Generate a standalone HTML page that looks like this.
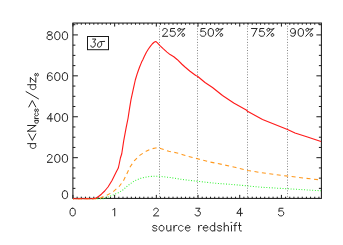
<!DOCTYPE html>
<html><head><meta charset="utf-8"><title>chart</title>
<style>html,body{margin:0;padding:0;background:#fff;overflow:hidden}</style></head>
<body>
<svg width="343" height="245" viewBox="0 0 343 245" style="display:block">
<rect width="343" height="245" fill="#fff"/>
<line x1="159.5" y1="23.05" x2="159.5" y2="198.4" stroke="#7c7c7c" stroke-width="1" stroke-dasharray="0.9 1.8"/>
<line x1="197.5" y1="23.05" x2="197.5" y2="198.4" stroke="#7c7c7c" stroke-width="1" stroke-dasharray="0.9 1.8"/>
<line x1="247.5" y1="23.05" x2="247.5" y2="198.4" stroke="#7c7c7c" stroke-width="1" stroke-dasharray="0.9 1.8"/>
<line x1="287.5" y1="23.05" x2="287.5" y2="198.4" stroke="#7c7c7c" stroke-width="1" stroke-dasharray="0.9 1.8"/>
<rect x="72.9" y="23.05" width="248.49999999999997" height="175.35" fill="none" stroke="#1a1a1a" stroke-width="1.05"/>
<path d="M72.96 198.4 v-3.5 M72.96 23.05 v3.5 M77.13 198.4 v-1.7 M77.13 23.05 v1.7 M81.30 198.4 v-1.7 M81.30 23.05 v1.7 M85.47 198.4 v-1.7 M85.47 23.05 v1.7 M89.64 198.4 v-1.7 M89.64 23.05 v1.7 M93.80 198.4 v-1.7 M93.80 23.05 v1.7 M97.97 198.4 v-1.7 M97.97 23.05 v1.7 M102.14 198.4 v-1.7 M102.14 23.05 v1.7 M106.31 198.4 v-1.7 M106.31 23.05 v1.7 M110.48 198.4 v-1.7 M110.48 23.05 v1.7 M114.65 198.4 v-3.5 M114.65 23.05 v3.5 M118.82 198.4 v-1.7 M118.82 23.05 v1.7 M122.99 198.4 v-1.7 M122.99 23.05 v1.7 M127.16 198.4 v-1.7 M127.16 23.05 v1.7 M131.33 198.4 v-1.7 M131.33 23.05 v1.7 M135.50 198.4 v-1.7 M135.50 23.05 v1.7 M139.66 198.4 v-1.7 M139.66 23.05 v1.7 M143.83 198.4 v-1.7 M143.83 23.05 v1.7 M148.00 198.4 v-1.7 M148.00 23.05 v1.7 M152.17 198.4 v-1.7 M152.17 23.05 v1.7 M156.34 198.4 v-3.5 M156.34 23.05 v3.5 M160.51 198.4 v-1.7 M160.51 23.05 v1.7 M164.68 198.4 v-1.7 M164.68 23.05 v1.7 M168.85 198.4 v-1.7 M168.85 23.05 v1.7 M173.02 198.4 v-1.7 M173.02 23.05 v1.7 M177.19 198.4 v-1.7 M177.19 23.05 v1.7 M181.35 198.4 v-1.7 M181.35 23.05 v1.7 M185.52 198.4 v-1.7 M185.52 23.05 v1.7 M189.69 198.4 v-1.7 M189.69 23.05 v1.7 M193.86 198.4 v-1.7 M193.86 23.05 v1.7 M198.03 198.4 v-3.5 M198.03 23.05 v3.5 M202.20 198.4 v-1.7 M202.20 23.05 v1.7 M206.37 198.4 v-1.7 M206.37 23.05 v1.7 M210.54 198.4 v-1.7 M210.54 23.05 v1.7 M214.71 198.4 v-1.7 M214.71 23.05 v1.7 M218.88 198.4 v-1.7 M218.88 23.05 v1.7 M223.04 198.4 v-1.7 M223.04 23.05 v1.7 M227.21 198.4 v-1.7 M227.21 23.05 v1.7 M231.38 198.4 v-1.7 M231.38 23.05 v1.7 M235.55 198.4 v-1.7 M235.55 23.05 v1.7 M239.72 198.4 v-3.5 M239.72 23.05 v3.5 M243.89 198.4 v-1.7 M243.89 23.05 v1.7 M248.06 198.4 v-1.7 M248.06 23.05 v1.7 M252.23 198.4 v-1.7 M252.23 23.05 v1.7 M256.40 198.4 v-1.7 M256.40 23.05 v1.7 M260.56 198.4 v-1.7 M260.56 23.05 v1.7 M264.73 198.4 v-1.7 M264.73 23.05 v1.7 M268.90 198.4 v-1.7 M268.90 23.05 v1.7 M273.07 198.4 v-1.7 M273.07 23.05 v1.7 M277.24 198.4 v-1.7 M277.24 23.05 v1.7 M281.41 198.4 v-3.5 M281.41 23.05 v3.5 M285.58 198.4 v-1.7 M285.58 23.05 v1.7 M289.75 198.4 v-1.7 M289.75 23.05 v1.7 M293.92 198.4 v-1.7 M293.92 23.05 v1.7 M298.09 198.4 v-1.7 M298.09 23.05 v1.7 M302.25 198.4 v-1.7 M302.25 23.05 v1.7 M306.42 198.4 v-1.7 M306.42 23.05 v1.7 M310.59 198.4 v-1.7 M310.59 23.05 v1.7 M314.76 198.4 v-1.7 M314.76 23.05 v1.7 M318.93 198.4 v-1.7 M318.93 23.05 v1.7 M72.9 188.37 h2.5 M321.4 188.37 h-2.5 M72.9 178.14 h2.5 M321.4 178.14 h-2.5 M72.9 167.91 h2.5 M321.4 167.91 h-2.5 M72.9 157.68 h5 M321.4 157.68 h-5 M72.9 147.45 h2.5 M321.4 147.45 h-2.5 M72.9 137.22 h2.5 M321.4 137.22 h-2.5 M72.9 126.99 h2.5 M321.4 126.99 h-2.5 M72.9 116.76 h5 M321.4 116.76 h-5 M72.9 106.53 h2.5 M321.4 106.53 h-2.5 M72.9 96.30 h2.5 M321.4 96.30 h-2.5 M72.9 86.07 h2.5 M321.4 86.07 h-2.5 M72.9 75.84 h5 M321.4 75.84 h-5 M72.9 65.61 h2.5 M321.4 65.61 h-2.5 M72.9 55.38 h2.5 M321.4 55.38 h-2.5 M72.9 45.15 h2.5 M321.4 45.15 h-2.5 M72.9 34.92 h5 M321.4 34.92 h-5 M72.9 24.69 h2.5 M321.4 24.69 h-2.5" stroke="#1a1a1a" stroke-width="1" fill="none"/>
<polyline points="73.00,198.75 104.00,198.60 109.10,196.50 113.50,194.80 118.30,192.70 122.60,190.20 127.50,185.90 132.40,182.20 135.00,180.60 140.70,178.30 147.60,176.70 154.40,176.20 158.75,176.20 170.00,177.50 182.50,179.50 197.50,181.25 212.50,183.00 236.00,184.80 262.20,187.30 288.50,188.80 321.00,190.80" fill="none" stroke="#2cf02c" stroke-width="1.05" stroke-dasharray="0.95 1.75"/>
<polyline points="73.00,198.75 99.00,198.60 105.50,196.00 112.80,192.00 119.20,186.50 123.60,180.40 126.90,173.70 130.20,166.70 134.50,160.50 139.75,155.30 146.70,150.90 151.00,149.00 155.50,147.95 158.40,147.70 161.40,148.80 165.00,150.00 168.80,151.30 176.10,152.70 182.00,154.40 187.50,156.25 197.50,158.75 210.00,162.00 222.50,164.50 236.00,167.50 247.80,170.50 267.50,173.60 288.50,176.20 304.20,178.10 321.00,180.00" fill="none" stroke="#ff981c" stroke-width="1.08" stroke-dasharray="4 3.5" stroke-dashoffset="3"/>
<polyline points="73.00,198.75 93.50,198.75 96.00,198.00 98.20,196.70 101.40,194.20 104.70,191.00 108.00,187.00 112.00,180.50 116.20,172.10 118.30,168.00 119.25,163.75 120.40,158.00 121.75,153.75 123.70,140.90 126.10,127.80 128.10,118.00 129.40,109.40 131.00,99.60 133.50,88.20 135.30,80.00 135.90,78.00 137.55,72.70 139.60,67.00 141.60,62.10 142.70,60.00 144.40,56.30 146.40,52.20 148.40,49.00 150.50,46.10 152.20,44.00 153.80,42.50 155.00,41.70 155.80,41.50 157.20,42.60 159.70,45.30 163.40,48.90 167.00,52.10 170.10,54.60 173.80,56.70 177.40,59.70 181.70,64.00 185.00,67.00 190.00,71.25 195.75,75.50 197.50,76.25 205.00,82.50 212.50,87.50 222.50,95.50 233.75,103.00 246.25,110.00 247.50,111.25 262.50,119.50 277.50,125.50 287.50,129.50 295.00,133.00 307.50,137.00 321.00,141.50" fill="none" stroke="#ff1a1a" stroke-width="1.12" stroke-linejoin="round"/>
<path d="M48.93 31.74 L47.79 32.12 L47.41 32.87 L47.41 33.62 L47.79 34.37 L48.55 34.74 L50.07 35.12 L51.22 35.49 L51.98 36.24 L52.36 36.99 L52.36 38.12 L51.98 38.87 L51.60 39.24 L50.45 39.62 L48.93 39.62 L47.79 39.24 L47.41 38.87 L47.03 38.12 L47.03 36.99 L47.41 36.24 L48.17 35.49 L49.31 35.12 L50.84 34.74 L51.60 34.37 L51.98 33.62 L51.98 32.87 L51.60 32.12 L50.45 31.74 L48.93 31.74 M56.93 31.74 L55.79 32.12 L55.03 33.24 L54.65 35.12 L54.65 36.24 L55.03 38.12 L55.79 39.24 L56.93 39.62 L57.69 39.62 L58.84 39.24 L59.60 38.12 L59.98 36.24 L59.98 35.12 L59.60 33.24 L58.84 32.12 L57.69 31.74 L56.93 31.74 M64.55 31.74 L63.41 32.12 L62.65 33.24 L62.27 35.12 L62.27 36.24 L62.65 38.12 L63.41 39.24 L64.55 39.62 L65.31 39.62 L66.46 39.24 L67.22 38.12 L67.60 36.24 L67.60 35.12 L67.22 33.24 L66.46 32.12 L65.31 31.74 L64.55 31.74 M51.98 73.79 L51.60 73.04 L50.45 72.66 L49.69 72.66 L48.55 73.04 L47.79 74.16 L47.41 76.04 L47.41 77.91 L47.79 79.41 L48.55 80.16 L49.69 80.54 L50.07 80.54 L51.22 80.16 L51.98 79.41 L52.36 78.29 L52.36 77.91 L51.98 76.79 L51.22 76.04 L50.07 75.66 L49.69 75.66 L48.55 76.04 L47.79 76.79 L47.41 77.91 M56.93 72.66 L55.79 73.04 L55.03 74.16 L54.65 76.04 L54.65 77.16 L55.03 79.04 L55.79 80.16 L56.93 80.54 L57.69 80.54 L58.84 80.16 L59.60 79.04 L59.98 77.16 L59.98 76.04 L59.60 74.16 L58.84 73.04 L57.69 72.66 L56.93 72.66 M64.55 72.66 L63.41 73.04 L62.65 74.16 L62.27 76.04 L62.27 77.16 L62.65 79.04 L63.41 80.16 L64.55 80.54 L65.31 80.54 L66.46 80.16 L67.22 79.04 L67.60 77.16 L67.60 76.04 L67.22 74.16 L66.46 73.04 L65.31 72.66 L64.55 72.66 M50.84 113.58 L47.03 118.83 L52.74 118.83 M50.84 113.58 L50.84 121.46 M56.93 113.58 L55.79 113.96 L55.03 115.08 L54.65 116.96 L54.65 118.08 L55.03 119.96 L55.79 121.08 L56.93 121.46 L57.69 121.46 L58.84 121.08 L59.60 119.96 L59.98 118.08 L59.98 116.96 L59.60 115.08 L58.84 113.96 L57.69 113.58 L56.93 113.58 M64.55 113.58 L63.41 113.96 L62.65 115.08 L62.27 116.96 L62.27 118.08 L62.65 119.96 L63.41 121.08 L64.55 121.46 L65.31 121.46 L66.46 121.08 L67.22 119.96 L67.60 118.08 L67.60 116.96 L67.22 115.08 L66.46 113.96 L65.31 113.58 L64.55 113.58 M47.41 156.38 L47.41 156.00 L47.79 155.25 L48.17 154.88 L48.93 154.50 L50.45 154.50 L51.22 154.88 L51.60 155.25 L51.98 156.00 L51.98 156.75 L51.60 157.50 L50.84 158.63 L47.03 162.38 L52.36 162.38 M56.93 154.50 L55.79 154.88 L55.03 156.00 L54.65 157.88 L54.65 159.00 L55.03 160.88 L55.79 162.00 L56.93 162.38 L57.69 162.38 L58.84 162.00 L59.60 160.88 L59.98 159.00 L59.98 157.88 L59.60 156.00 L58.84 154.88 L57.69 154.50 L56.93 154.50 M64.55 154.50 L63.41 154.88 L62.65 156.00 L62.27 157.88 L62.27 159.00 L62.65 160.88 L63.41 162.00 L64.55 162.38 L65.31 162.38 L66.46 162.00 L67.22 160.88 L67.60 159.00 L67.60 157.88 L67.22 156.00 L66.46 154.88 L65.31 154.50 L64.55 154.50 M64.55 190.72 L63.41 191.10 L62.65 192.22 L62.27 194.10 L62.27 195.22 L62.65 197.10 L63.41 198.22 L64.55 198.60 L65.31 198.60 L66.46 198.22 L67.22 197.10 L67.60 195.22 L67.60 194.10 L67.22 192.22 L66.46 191.10 L65.31 190.72 L64.55 190.72 M72.28 208.24 L71.14 208.60 L70.37 209.69 L69.99 211.52 L69.99 212.62 L70.37 214.44 L71.14 215.53 L72.28 215.90 L73.04 215.90 L74.18 215.53 L74.95 214.44 L75.33 212.62 L75.33 211.52 L74.95 209.69 L74.18 208.60 L73.04 208.24 L72.28 208.24 M112.83 209.69 L113.59 209.33 L114.73 208.24 L114.73 215.90 M153.75 210.06 L153.75 209.69 L154.13 208.97 L154.52 208.60 L155.28 208.24 L156.80 208.24 L157.56 208.60 L157.94 208.97 L158.33 209.69 L158.33 210.43 L157.94 211.16 L157.18 212.25 L153.37 215.90 L158.71 215.90 M195.82 208.24 L200.02 208.24 L197.73 211.16 L198.87 211.16 L199.63 211.52 L200.02 211.89 L200.40 212.98 L200.40 213.71 L200.02 214.81 L199.25 215.53 L198.11 215.90 L196.97 215.90 L195.82 215.53 L195.44 215.17 L195.06 214.44 M240.56 208.24 L236.75 213.34 L242.47 213.34 M240.56 208.24 L240.56 215.90 M283.01 208.24 L279.20 208.24 L278.82 211.52 L279.20 211.16 L280.35 210.79 L281.49 210.79 L282.63 211.16 L283.40 211.89 L283.78 212.98 L283.78 213.71 L283.40 214.81 L282.63 215.53 L281.49 215.90 L280.35 215.90 L279.20 215.53 L278.82 215.17 L278.44 214.44 M156.79 226.66 L156.41 225.87 L155.27 225.47 L154.13 225.47 L152.98 225.87 L152.60 226.66 L152.98 227.44 L153.75 227.84 L155.65 228.24 L156.41 228.63 L156.79 229.42 L156.79 229.81 L156.41 230.60 L155.27 231.00 L154.13 231.00 L152.98 230.60 L152.60 229.81 M160.99 225.47 L160.22 225.87 L159.46 226.66 L159.08 227.84 L159.08 228.63 L159.46 229.81 L160.22 230.60 L160.99 231.00 L162.13 231.00 L162.89 230.60 L163.65 229.81 L164.03 228.63 L164.03 227.84 L163.65 226.66 L162.89 225.87 L162.13 225.47 L160.99 225.47 M166.70 225.47 L166.70 229.42 L167.08 230.60 L167.84 231.00 L168.99 231.00 L169.75 230.60 L170.89 229.42 M170.89 225.47 L170.89 231.00 M173.94 225.47 L173.94 231.00 M173.94 227.84 L174.32 226.66 L175.08 225.87 L175.84 225.47 L176.99 225.47 M183.08 226.66 L182.32 225.87 L181.56 225.47 L180.42 225.47 L179.65 225.87 L178.89 226.66 L178.51 227.84 L178.51 228.63 L178.89 229.81 L179.65 230.60 L180.42 231.00 L181.56 231.00 L182.32 230.60 L183.08 229.81 M185.37 227.84 L189.94 227.84 L189.94 227.05 L189.56 226.26 L189.18 225.87 L188.42 225.47 L187.27 225.47 L186.51 225.87 L185.75 226.66 L185.37 227.84 L185.37 228.63 L185.75 229.81 L186.51 230.60 L187.27 231.00 L188.42 231.00 L189.18 230.60 L189.94 229.81 M198.70 225.47 L198.70 231.00 M198.70 227.84 L199.09 226.66 L199.85 225.87 L200.61 225.47 L201.75 225.47 M203.28 227.84 L207.85 227.84 L207.85 227.05 L207.47 226.26 L207.09 225.87 L206.32 225.47 L205.18 225.47 L204.42 225.87 L203.66 226.66 L203.28 227.84 L203.28 228.63 L203.66 229.81 L204.42 230.60 L205.18 231.00 L206.32 231.00 L207.09 230.60 L207.85 229.81 M214.71 222.71 L214.71 231.00 M214.71 226.66 L213.94 225.87 L213.18 225.47 L212.04 225.47 L211.28 225.87 L210.52 226.66 L210.13 227.84 L210.13 228.63 L210.52 229.81 L211.28 230.60 L212.04 231.00 L213.18 231.00 L213.94 230.60 L214.71 229.81 M221.56 226.66 L221.18 225.87 L220.04 225.47 L218.90 225.47 L217.75 225.87 L217.37 226.66 L217.75 227.44 L218.52 227.84 L220.42 228.24 L221.18 228.63 L221.56 229.42 L221.56 229.81 L221.18 230.60 L220.04 231.00 L218.90 231.00 L217.75 230.60 L217.37 229.81 M224.23 222.71 L224.23 231.00 M224.23 227.05 L225.37 225.87 L226.14 225.47 L227.28 225.47 L228.04 225.87 L228.42 227.05 L228.42 231.00 M231.09 222.31 L231.47 222.71 L231.85 222.31 L231.47 221.91 L231.09 222.31 M231.47 225.47 L231.47 231.00 M236.80 222.71 L236.04 222.71 L235.28 223.10 L234.90 224.28 L234.90 231.00 M233.76 225.47 L236.42 225.47 M239.47 222.71 L239.47 229.42 L239.85 230.60 L240.61 231.00 L241.38 231.00 M238.33 225.47 L241.00 225.47 M162.69 30.38 L162.69 30.01 L163.07 29.27 L163.46 28.90 L164.23 28.53 L165.77 28.53 L166.54 28.90 L166.92 29.27 L167.31 30.01 L167.31 30.75 L166.92 31.49 L166.15 32.60 L162.30 36.30 L167.69 36.30 M174.62 28.53 L170.77 28.53 L170.39 31.86 L170.77 31.49 L171.93 31.12 L173.08 31.12 L174.24 31.49 L175.00 32.23 L175.39 33.34 L175.39 34.08 L175.00 35.19 L174.24 35.93 L173.08 36.30 L171.93 36.30 L170.77 35.93 L170.39 35.56 L170.00 34.82 M184.63 28.53 L177.70 36.30 M179.62 28.53 L180.40 29.27 L180.40 30.01 L180.01 30.75 L179.24 31.12 L178.47 31.12 L177.70 30.38 L177.70 29.64 L178.09 28.90 L178.86 28.53 L179.62 28.53 L180.40 28.90 L181.55 29.27 L182.71 29.27 L183.86 28.90 L184.63 28.53 M183.09 33.71 L182.32 34.08 L181.94 34.82 L181.94 35.56 L182.71 36.30 L183.48 36.30 L184.25 35.93 L184.63 35.19 L184.63 34.45 L183.86 33.71 L183.09 33.71 M205.02 28.53 L201.17 28.53 L200.78 31.86 L201.17 31.49 L202.33 31.12 L203.48 31.12 L204.63 31.49 L205.41 32.23 L205.79 33.34 L205.79 34.08 L205.41 35.19 L204.63 35.93 L203.48 36.30 L202.33 36.30 L201.17 35.93 L200.78 35.56 L200.40 34.82 M210.41 28.53 L209.25 28.90 L208.49 30.01 L208.10 31.86 L208.10 32.97 L208.49 34.82 L209.25 35.93 L210.41 36.30 L211.18 36.30 L212.34 35.93 L213.11 34.82 L213.49 32.97 L213.49 31.86 L213.11 30.01 L212.34 28.90 L211.18 28.53 L210.41 28.53 M222.73 28.53 L215.80 36.30 M217.72 28.53 L218.50 29.27 L218.50 30.01 L218.11 30.75 L217.34 31.12 L216.57 31.12 L215.80 30.38 L215.80 29.64 L216.19 28.90 L216.96 28.53 L217.72 28.53 L218.50 28.90 L219.65 29.27 L220.81 29.27 L221.96 28.90 L222.73 28.53 M221.19 33.71 L220.42 34.08 L220.03 34.82 L220.03 35.56 L220.81 36.30 L221.58 36.30 L222.34 35.93 L222.73 35.19 L222.73 34.45 L221.96 33.71 L221.19 33.71 M256.89 28.53 L253.04 36.30 M251.50 28.53 L256.89 28.53 M263.82 28.53 L259.97 28.53 L259.58 31.86 L259.97 31.49 L261.12 31.12 L262.28 31.12 L263.44 31.49 L264.20 32.23 L264.59 33.34 L264.59 34.08 L264.20 35.19 L263.44 35.93 L262.28 36.30 L261.12 36.30 L259.97 35.93 L259.58 35.56 L259.20 34.82 M273.83 28.53 L266.90 36.30 M268.82 28.53 L269.60 29.27 L269.60 30.01 L269.21 30.75 L268.44 31.12 L267.67 31.12 L266.90 30.38 L266.90 29.64 L267.29 28.90 L268.06 28.53 L268.82 28.53 L269.60 28.90 L270.75 29.27 L271.90 29.27 L273.06 28.90 L273.83 28.53 M272.29 33.71 L271.52 34.08 L271.13 34.82 L271.13 35.56 L271.90 36.30 L272.68 36.30 L273.44 35.93 L273.83 35.19 L273.83 34.45 L273.06 33.71 L272.29 33.71 M295.41 31.12 L295.02 32.23 L294.25 32.97 L293.10 33.34 L292.71 33.34 L291.56 32.97 L290.79 32.23 L290.40 31.12 L290.40 30.75 L290.79 29.64 L291.56 28.90 L292.71 28.53 L293.10 28.53 L294.25 28.90 L295.02 29.64 L295.41 31.12 L295.41 32.97 L295.02 34.82 L294.25 35.93 L293.10 36.30 L292.32 36.30 L291.17 35.93 L290.79 35.19 M300.41 28.53 L299.25 28.90 L298.49 30.01 L298.10 31.86 L298.10 32.97 L298.49 34.82 L299.25 35.93 L300.41 36.30 L301.18 36.30 L302.33 35.93 L303.11 34.82 L303.49 32.97 L303.49 31.86 L303.11 30.01 L302.33 28.90 L301.18 28.53 L300.41 28.53 M312.73 28.53 L305.80 36.30 M307.73 28.53 L308.50 29.27 L308.50 30.01 L308.11 30.75 L307.34 31.12 L306.57 31.12 L305.80 30.38 L305.80 29.64 L306.19 28.90 L306.95 28.53 L307.73 28.53 L308.50 28.90 L309.65 29.27 L310.81 29.27 L311.96 28.90 L312.73 28.53 M311.19 33.71 L310.42 34.08 L310.04 34.82 L310.04 35.56 L310.81 36.30 L311.57 36.30 L312.35 35.93 L312.73 35.19 L312.73 34.45 L311.96 33.71 L311.19 33.71 M27.61 143.62 L35.80 143.62 M31.51 143.62 L30.73 144.44 L30.34 145.24 L30.34 146.46 L30.73 147.27 L31.51 148.08 L32.68 148.48 L33.46 148.48 L34.63 148.08 L35.41 147.27 L35.80 146.46 L35.80 145.24 L35.41 144.44 L34.63 143.62 M28.78 133.90 L32.29 140.38 L35.80 133.90 M27.61 131.16 L35.80 131.16 M27.61 131.16 L35.80 125.49 M27.61 125.49 L35.80 125.49 M34.78 120.42 L38.35 120.42 M35.54 120.42 L35.03 120.88 L34.78 121.35 L34.78 122.04 L35.03 122.51 L35.54 122.97 L36.31 123.20 L36.82 123.20 L37.58 122.97 L38.09 122.51 L38.35 122.04 L38.35 121.35 L38.09 120.88 L37.58 120.42 M34.78 118.56 L38.35 118.56 M36.31 118.56 L35.54 118.33 L35.03 117.87 L34.78 117.40 L34.78 116.71 M35.54 113.00 L35.03 113.46 L34.78 113.92 L34.78 114.62 L35.03 115.08 L35.54 115.55 L36.31 115.78 L36.82 115.78 L37.58 115.55 L38.09 115.08 L38.35 114.62 L38.35 113.92 L38.09 113.46 L37.58 113.00 M35.54 109.05 L35.03 109.28 L34.78 109.98 L34.78 110.68 L35.03 111.37 L35.54 111.60 L36.05 111.37 L36.31 110.91 L36.56 109.75 L36.82 109.28 L37.33 109.05 L37.58 109.05 L38.09 109.28 L38.35 109.98 L38.35 110.68 L38.09 111.37 L37.58 111.60 M28.78 106.98 L32.29 100.50 L35.80 106.98 M26.05 91.60 L38.53 98.89 M27.61 84.72 L35.80 84.72 M31.51 84.72 L30.73 85.53 L30.34 86.34 L30.34 87.56 L30.73 88.37 L31.51 89.18 L32.68 89.58 L33.46 89.58 L34.63 89.18 L35.41 88.37 L35.80 87.56 L35.80 86.34 L35.41 85.53 L34.63 84.72 M30.34 77.73 L35.80 82.19 M30.34 82.19 L30.34 77.73 M35.80 82.19 L35.80 77.73 M35.54 73.45 L35.03 73.68 L34.78 74.38 L34.78 75.08 L35.03 75.77 L35.54 76.00 L36.05 75.77 L36.31 75.31 L36.56 74.15 L36.82 73.68 L37.33 73.45 L37.58 73.45 L38.09 73.68 L38.35 74.38 L38.35 75.08 L38.09 75.77 L37.58 76.00 M92.62 39.05 L95.92 39.05 L93.59 42.16 L94.49 42.16 L95.02 42.54 L95.26 42.93 L95.36 44.10 L95.23 44.87 L94.73 46.04 L94.00 46.81 L93.03 47.20 L92.13 47.20 L91.30 46.81 L91.06 46.42 L90.89 45.65 M104.66 41.40 L100.62 41.60 L99.34 42.00 L98.38 42.80 L97.74 44.00 L97.50 45.20 L97.66 46.40 L98.34 47.00 L99.10 47.20 L99.94 47.00 L100.86 46.40 L101.50 45.20 L101.74 44.00 L101.58 42.80 L100.94 42.00 L100.62 41.60" fill="none" stroke="#242424" stroke-width="1.0" stroke-linecap="round" stroke-linejoin="round"/>
<rect x="87.5" y="36.5" width="21" height="13.2" fill="none" stroke="#1a1a1a" stroke-width="1"/>
</svg>
</body></html>
